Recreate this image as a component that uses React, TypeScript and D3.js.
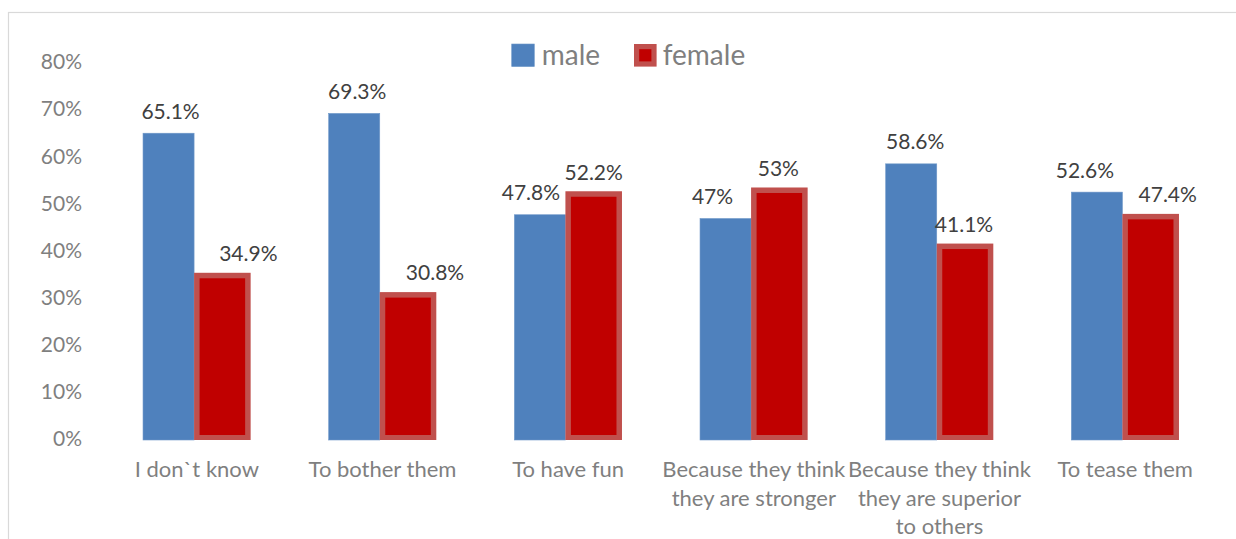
import React from "react";
import * as d3 from "d3";

const categories = [
  "I don`t know",
  "To bother them",
  "To have fun",
  "Because they think\nthey are stronger",
  "Because they think\nthey are superior\nto others",
  "To tease them",
];
const maleValues = [65.1, 69.3, 47.8, 47, 58.6, 52.6];
const femaleValues = [34.9, 30.8, 52.2, 53, 41.1, 47.4];
const maleLabels = ["65.1%", "69.3%", "47.8%", "47%", "58.6%", "52.6%"];
const femaleLabels = ["34.9%", "30.8%", "52.2%", "53%", "41.1%", "47.4%"];
const yTicks = [0, 10, 20, 30, 40, 50, 60, 70, 80];
const seriesNames = ["male", "female"];

// layout / style constants
const W = 1236;
const H = 539;
const FONT = "Lato, 'Open Sans', sans-serif";
const MALE_FILL = "#4F81BD";
const FEMALE_FILL = "#C00000";
const FEMALE_STROKE = "#C0504D";
const SW = 5.5;
const maleLabelNudge = [2, 3, -9, -13, 4, -12];
const femaleLabelNudge = [26, 27, 0, -1, -1, 17];

export default function App() {
  const x = d3.scaleBand<string>().domain(categories).range([104, 1218]).padding(0);
  const y = d3.scaleLinear().domain([0, 80]).range([440, 63]);
  const bw = x.bandwidth() * 0.275;
  const y0 = y(0);

  return (
    <svg
      width={W}
      height={H}
      style={{ position: "absolute", left: 0, top: 0, background: "#fff" }}
      fontFamily={FONT}
    >
      <rect x={8.5} y={12.5} width={W + 20} height={H + 20} fill="#fff" stroke="#D9D9D9" strokeWidth={1.2} />

      {/* y tick labels */}
      {yTicks.map((t) => (
        <text
          key={t}
          x={82}
          y={y(t) - 1}
          dy="0.35em"
          textAnchor="end"
          fontSize={21}
          fill="#7F7F7F"
        >
          {t}%
        </text>
      ))}

      {/* bars */}
      {categories.map((c, i) => {
        const cx = (x(c) as number) + x.bandwidth() / 2;
        const mTop = y(maleValues[i]);
        const fTop = y(femaleValues[i]);
        const mx = cx - bw - SW / 2;
        const fx = cx;
        return (
          <g key={c}>
            <rect x={mx} y={mTop} width={bw} height={y0 - mTop} fill={MALE_FILL} stroke="#6F98C8" strokeWidth={0.6} />
            <rect
              x={fx - SW / 2}
              y={fTop - SW / 2}
              width={bw + SW}
              height={y0 - fTop + SW / 2}
              fill={FEMALE_STROKE}
            />
            <rect
              x={fx + SW / 2}
              y={fTop + SW / 2}
              width={bw - SW}
              height={y0 - fTop - SW / 2 - 5}
              fill={FEMALE_FILL}
            />
            <text
              x={mx + bw / 2 + maleLabelNudge[i]}
              y={mTop - 14.5}
              textAnchor="middle"
              fontSize={21}
              fill="#404040"
            >
              {maleLabels[i]}
            </text>
            <text
              x={fx + bw / 2 + femaleLabelNudge[i]}
              y={fTop - 14.5}
              textAnchor="middle"
              fontSize={21}
              fill="#404040"
            >
              {femaleLabels[i]}
            </text>
            {c.split("\n").map((line, k) => (
              <text
                key={k}
                x={cx}
                y={477 + k * 28.7}
                textAnchor="middle"
                fontSize={22}
                fill="#7F7F7F"
              >
                {line}
              </text>
            ))}
          </g>
        );
      })}

      {/* legend */}
      <g>
        <rect x={511.7} y={44} width={22.6} height={22.6} fill={MALE_FILL} stroke="#6F98C8" strokeWidth={0.6} />
        <text x={541.7} y={65} fontSize={28} fill="#7F7F7F">
          {seriesNames[0]}
        </text>
        <rect x={634} y={44} width={22.6} height={22.6} fill={FEMALE_STROKE} />
        <rect x={639.2} y={49.2} width={12.2} height={12.2} fill={FEMALE_FILL} />
        <text x={662.7} y={65} fontSize={28} fill="#7F7F7F">
          {seriesNames[1]}
        </text>
      </g>
    </svg>
  );
}
